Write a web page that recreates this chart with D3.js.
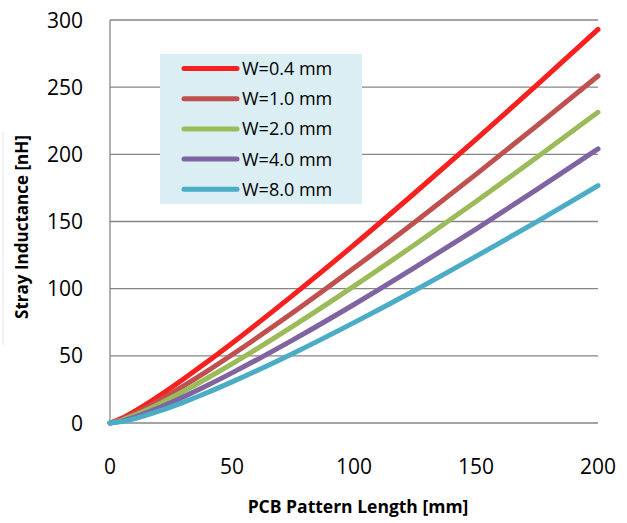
<!DOCTYPE html>
<html>
<head>
<meta charset="utf-8">
<script src="https://cdn.jsdelivr.net/npm/d3@7"></script>
<style>
  body { margin: 0; background: #fff; }
  text { font-family: "Open Sans", sans-serif; fill: #000; }
</style>
</head>
<body>
<script>
// trace length in mm
var lengths = [0, 5, 10, 20, 30, 40, 50, 75, 100, 125, 150, 175, 200];
// stray inductance in nH, one array per trace width
var w04 = [0, 3.65, 8.68, 20.1, 32.6, 45.7, 59.4, 95.2, 132.6, 171.4, 211.1, 251.7, 293.0];
var w10 = [0, 2.81, 6.97, 16.7, 27.4, 38.8, 50.8, 82.2, 115.3, 149.7, 185.1, 221.4, 258.3];
var w20 = [0, 2.18, 5.66, 14.0, 23.4, 33.5, 44.0, 72.1, 101.9, 132.9, 164.9, 197.8, 231.3];
var w40 = [0, 1.59, 4.38, 11.4, 19.4, 28.1, 37.3, 61.9, 88.2, 115.8, 144.4, 173.9, 204.0];
var w80 = [0, 1.08, 3.18, 8.78, 15.4, 22.7, 30.6, 51.8, 74.7, 98.8, 124.0, 149.9, 176.7];
var seriesNames = ["W=0.4 mm", "W=1.0 mm", "W=2.0 mm", "W=4.0 mm", "W=8.0 mm"];
var seriesColors = ["#f81f1f", "#c0504d", "#9bbb59", "#8064a2", "#4bacc6"];
var xTicks = [0, 50, 100, 150, 200];
var yTicks = [0, 50, 100, 150, 200, 250, 300];

var allSeries = [w04, w10, w20, w40, w80];
var width = 627, height = 523;
var svg = d3.select("body").append("svg")
    .attr("width", width)
    .attr("height", height);

var x = d3.scaleLinear().domain([0, 200]).range([110, 598]);
var y = d3.scaleLinear().domain([0, 300]).range([423, 20]);

// faint frame edge on the left of the picture
svg.append("line")
    .attr("x1", 3).attr("x2", 3).attr("y1", 132).attr("y2", 345)
    .attr("stroke", "#e4e4e4").attr("stroke-width", 1);

// gridlines
svg.append("g").selectAll("line")
    .data(yTicks).enter().append("line")
    .attr("x1", x(0)).attr("x2", x(200))
    .attr("y1", function(d) { return y(d); })
    .attr("y2", function(d) { return y(d); })
    .attr("stroke", "#868686")
    .attr("stroke-width", 1.3);

// left axis line
svg.append("line")
    .attr("x1", x(0)).attr("x2", x(0))
    .attr("y1", y(0)).attr("y2", y(300))
    .attr("stroke", "#868686")
    .attr("stroke-width", 1.3);

// y tick labels
svg.append("g").selectAll("text")
    .data(yTicks).enter().append("text")
    .attr("x", 83)
    .attr("y", function(d) { return y(d); })
    .attr("dy", "0.36em")
    .attr("text-anchor", "end")
    .style("font-size", "21px")
    .text(function(d) { return d; });

// x tick labels
svg.append("g").selectAll("text")
    .data(xTicks).enter().append("text")
    .attr("x", function(d) { return x(d); })
    .attr("y", 466)
    .attr("dy", "0.36em")
    .attr("text-anchor", "middle")
    .style("font-size", "21px")
    .text(function(d) { return d; });

// axis titles
svg.append("text")
    .attr("x", 358).attr("y", 513)
    .attr("text-anchor", "middle")
    .style("font-size", "17.5px")
    .style("font-weight", "bold")
    .text("PCB Pattern Length [mm]");

svg.append("text")
    .attr("transform", "translate(28,227) rotate(-90)")
    .attr("text-anchor", "middle")
    .style("font-size", "17px")
    .style("font-weight", "bold")
    .text("Stray Inductance [nH]");

// curves
var line = d3.line()
    .x(function(d, i) { return x(lengths[i]); })
    .y(function(d) { return y(d); })
    .curve(d3.curveMonotoneX);

svg.append("g").selectAll("path")
    .data(allSeries).enter().append("path")
    .attr("d", line)
    .attr("fill", "none")
    .attr("stroke", function(d, i) { return seriesColors[i]; })
    .attr("stroke-width", 5)
    .attr("stroke-linecap", "round")
    .attr("stroke-linejoin", "round");

// legend
var legend = svg.append("g").attr("class", "legend");
legend.append("rect")
    .attr("x", 160).attr("y", 54)
    .attr("width", 202).attr("height", 150)
    .attr("fill", "#daeef3");

var rows = legend.selectAll(".row")
    .data(seriesNames).enter().append("g")
    .attr("class", "row")
    .attr("transform", function(d, i) { return "translate(0," + (68.5 + i * 30.2) + ")"; });

rows.append("line")
    .attr("x1", 184).attr("x2", 237)
    .attr("y1", 0).attr("y2", 0)
    .attr("stroke", function(d, i) { return seriesColors[i]; })
    .attr("stroke-width", 5)
    .attr("stroke-linecap", "round");

rows.append("text")
    .attr("x", 242).attr("y", 0)
    .attr("dy", "0.36em")
    .style("font-size", "18px")
    .text(function(d) { return d; });
</script>
</body>
</html>
